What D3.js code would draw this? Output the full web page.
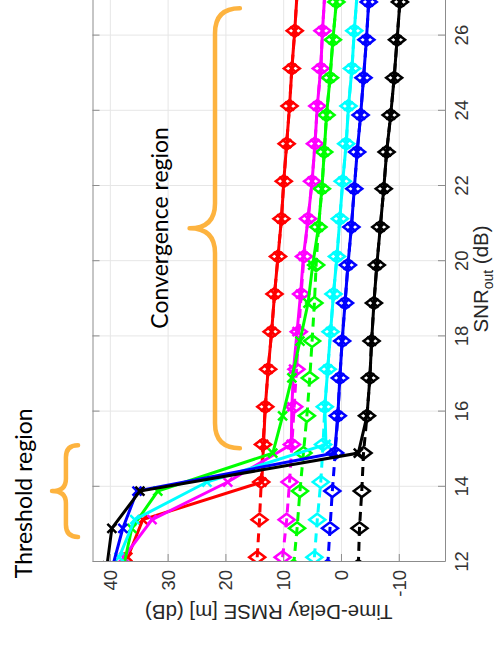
<!DOCTYPE html>
<html>
<head>
<meta charset="utf-8">
<title>Time-Delay RMSE vs SNR</title>
<script src="https://d3js.org/d3.v7.min.js"></script>
<style>
  body { margin: 0; background: #fff; }
  svg { display: block; }
  .axis text { font-family: "Liberation Sans", Arial, sans-serif; font-size: 18.5px; fill: #333; }
  .axis path, .axis line { stroke: #8c8c8c; stroke-width: 1; }
  .grid line { stroke: #e6e6e6; stroke-width: 1; }
  .label { font-family: "Liberation Sans", Arial, sans-serif; font-size: 20.5px; fill: #262626; }
  .note { font-family: Lato, "Open Sans", sans-serif; font-size: 23px; fill: #000; }
</style>
</head>
<body>
<div id="chart"></div>
<script>
// SNR_out points (dB); two slightly shifted grids
const snrA = [12.1, 13.1, 14.1, 15.1, 16.1, 17.1, 18.1, 19.1, 20.1, 21.1, 22.1, 23.1, 24.1, 25.1, 26.1, 27.1];
const snrB = [11.87, 12.87, 13.86, 14.87, 15.86, 16.87, 17.85, 18.86, 19.87, 20.88, 21.9, 22.88, 23.86, 24.85, 25.86, 26.87];

// dashed curves (diamonds) and solid curves (x markers), RMSE in dB
const redBound = [14.5, 14.1, 13.8, 13.5, 13.1, 12.6, 12.0, 11.5, 10.9, 10.3, 9.9, 9.4, 8.9, 8.5, 8.0, 7.6];
const redRmse = [36.9, 34.3, 13.7, 13.4, 13.1, 12.6, 12.0, 11.5, 10.9, 10.3, 9.9, 9.4, 8.9, 8.5, 8.0, 7.6];
const magentaBound = [10.1, 9.4, 8.9, 8.5, 8.1, 7.7, 7.3, 6.9, 6.4, 5.7, 5.0, 4.5, 4.1, 3.5, 3.2, 2.8];
const magentaRmse = [37.6, 32.7, 19.6, 8.6, 8.5, 8.2, 7.6, 7.0, 6.5, 5.7, 5.0, 4.5, 4.1, 3.5, 3.2, 2.8];
const greenBound = [8.2, 7.6, 7.1, 6.5, 5.9, 5.4, 5.0, 4.6, 4.3, 3.9, 3.3, 2.9, 2.5, 1.9, 1.4, 0.8];
const greenRmse = [37.6, 36.2, 31.7, 11.8, 10.1, 8.5, 7.1, 5.7, 4.9, 3.9, 3.3, 2.9, 2.5, 1.9, 1.4, 0.8];
const cyanBound = [4.6, 4.1, 3.5, 3.1, 2.8, 2.3, 1.8, 1.3, 0.7, 0.2, -0.3, -0.9, -1.3, -1.9, -2.3, -2.8];
const cyanRmse = [38.4, 35.7, 23.2, 2.6, 2.8, 2.3, 1.8, 1.3, 0.7, 0.2, -0.3, -0.9, -1.3, -1.9, -2.3, -2.8];
const blueBound = [2.3, 1.9, 1.5, 1.0, 0.55, 0.2, -0.2, -0.7, -1.2, -1.8, -2.3, -2.8, -3.4, -3.9, -4.4, -4.8];
const blueRmse = [39.5, 37.75, 35.3, 1.1, 0.55, 0.2, -0.2, -0.7, -1.2, -1.8, -2.3, -2.8, -3.4, -3.9, -4.4, -4.8];
const blackBound = [-3.0, -3.2, -3.6, -3.9, -4.5, -5.0, -5.3, -5.7, -6.2, -6.8, -7.4, -7.9, -8.6, -9.2, -9.7, -10.2];
const blackRmse = [40.5, 39.65, 34.8, -3.0, -4.5, -5.0, -5.3, -5.7, -6.2, -6.8, -7.4, -7.9, -8.6, -9.2, -9.7, -10.2];

const snrTicks = [12, 14, 16, 18, 20, 22, 24, 26];
const rmseTicks = [-10, 0, 10, 20, 30, 40];

// annotations, in data units (snr range, rmse of tip / spine / ends)
const braces = [
  { from: 12.64, to: 15.08, tip: 50.0, spine: 47.6, end: 45.5 },
  { from: 15.0, to: 26.7, tip: 26.2, spine: 21.8, end: 17.5 }
];
const notes = [
  { text: "Threshold region", snr: 13.8, rmse: 53.5 },
  { text: "Convergence region", snr: 20.86, rmse: 30.0 }
];

const series = [
  { color: "#ff0000", snr: snrA, bound: redBound, rmse: redRmse },
  { color: "#ff00ff", snr: snrA, bound: magentaBound, rmse: magentaRmse },
  { color: "#00ff00", snr: snrB, bound: greenBound, rmse: greenRmse },
  { color: "#00ffff", snr: snrA, bound: cyanBound, rmse: cyanRmse },
  { color: "#0000ff", snr: snrB, bound: blueBound, rmse: blueRmse },
  { color: "#000000", snr: snrB, bound: blackBound, rmse: blackRmse }
];

const width = 498, height = 648;

const svg = d3.select("#chart").append("svg")
  .attr("width", width)
  .attr("height", height);

// figure is shown turned by 90 degrees: SNR runs upward, RMSE runs to the left
const x = d3.scaleLinear().domain([43, -18]).range([92.5, 445]);
const y = d3.scaleLinear().domain([12, 27]).range([561, -3]);

const plotW = x(-18) - x(43), plotH = y(12) - y(27);

svg.append("defs").append("clipPath").attr("id", "plot")
  .append("rect")
  .attr("x", x(43)).attr("y", y(27))
  .attr("width", plotW).attr("height", plotH);

// grid
svg.append("g").attr("class", "grid")
  .attr("transform", `translate(0,${y(12)})`)
  .call(d3.axisBottom(x).tickValues(rmseTicks).tickSize(-plotH).tickFormat(""))
  .call(g => g.select(".domain").remove());
svg.append("g").attr("class", "grid")
  .attr("transform", `translate(${x(43)},0)`)
  .call(d3.axisLeft(y).tickValues(snrTicks).tickSize(-plotW).tickFormat(""))
  .call(g => g.select(".domain").remove());

// curves
const plotArea = svg.append("g").attr("clip-path", "url(#plot)");
const line = d3.line().x(d => x(d[1])).y(d => y(d[0]));

function diamond(w, h) {
  return `M0,${-h}L${w},0L0,${h}L${-w},0Z`;
}
const cross = "M-4.5,-4.5L4.5,4.5M-4.5,4.5L4.5,-4.5";

series.forEach(s => {
  const pts = s.snr.map((v, i) => [v, s.bound[i]]);
  plotArea.append("path")
    .attr("d", line(pts))
    .attr("fill", "none")
    .attr("stroke", s.color)
    .attr("stroke-width", 3)
    .attr("stroke-dasharray", "9,6");
  plotArea.selectAll(null).data(pts).enter().append("path")
    .attr("d", diamond(8, 6))
    .attr("transform", d => `translate(${x(d[1])},${y(d[0])})`)
    .attr("fill", "none")
    .attr("stroke", s.color)
    .attr("stroke-width", 2.5);
});

series.forEach(s => {
  const pts = s.snr.map((v, i) => [v, s.rmse[i]]);
  plotArea.append("path")
    .attr("d", line(pts))
    .attr("fill", "none")
    .attr("stroke", s.color)
    .attr("stroke-width", 3);
  plotArea.selectAll(null).data(pts).enter().append("path")
    .attr("d", cross)
    .attr("transform", d => `translate(${x(d[1])},${y(d[0])})`)
    .attr("fill", "none")
    .attr("stroke", s.color)
    .attr("stroke-width", 2.5);
});

// axes
const fmt = d => String(d);

const bottomAxis = svg.append("g").attr("class", "axis")
  .attr("transform", `translate(0,${y(12)})`)
  .call(d3.axisBottom(x).tickValues(rmseTicks).tickSizeInner(-7).tickSizeOuter(0).tickFormat(fmt));
bottomAxis.selectAll("text")
  .attr("x", 0).attr("y", 0).attr("dy", "0.35em")
  .attr("text-anchor", "end")
  .attr("transform", "translate(0,9) rotate(-90)");

const rightAxis = svg.append("g").attr("class", "axis")
  .attr("transform", `translate(${x(-18)},0)`)
  .call(d3.axisRight(y).tickValues(snrTicks).tickSizeInner(-7).tickSizeOuter(0).tickFormat(fmt));
rightAxis.selectAll("text")
  .attr("x", 0).attr("y", 0).attr("dy", 0)
  .attr("text-anchor", "middle")
  .attr("transform", "translate(23,0) rotate(-90)");

svg.append("g").attr("class", "axis")
  .attr("transform", `translate(${x(43)},0)`)
  .call(d3.axisLeft(y).tickValues(snrTicks).tickSizeInner(-7).tickSizeOuter(0).tickFormat(""));

// axis titles
const snrLabel = svg.append("text").attr("class", "label")
  .attr("text-anchor", "middle")
  .attr("transform", `translate(488,${(y(12) + y(27)) / 2}) rotate(-90)`);
snrLabel.append("tspan").text("SNR");
snrLabel.append("tspan").attr("font-size", "14px").attr("dy", "0.35em").text("out");
snrLabel.append("tspan").attr("dy", "-0.25em").text(" (dB)");

svg.append("text").attr("class", "label")
  .attr("text-anchor", "middle")
  .attr("transform", `translate(${(x(43) + x(-18)) / 2},605) rotate(180)`)
  .text("Time-Delay RMSE [m] (dB)");

// braces and region notes
function bracePath(b) {
  const xe = x(b.end), xs = x(b.spine), xt = x(b.tip);
  const y0 = y(b.to), y1 = y(b.from), ym = (y0 + y1) / 2;
  const r = Math.abs(xe - xs);
  return `M${xe},${y0}Q${xs},${y0} ${xs},${y0 + r}L${xs},${ym - r}Q${xs},${ym} ${xt},${ym}` +
    `Q${xs},${ym} ${xs},${ym + r}L${xs},${y1 - r}Q${xs},${y1} ${xe},${y1}`;
}

svg.selectAll(".brace").data(braces).enter().append("path")
  .attr("class", "brace")
  .attr("d", bracePath)
  .attr("fill", "none")
  .attr("stroke", "#fdb33f")
  .attr("stroke-width", 4.5)
  .attr("stroke-linecap", "round")
  .attr("stroke-linejoin", "round");

svg.selectAll(".note").data(notes).enter().append("text")
  .attr("class", "note")
  .attr("text-anchor", "middle")
  .attr("transform", d => `translate(${x(d.rmse)},${y(d.snr)}) rotate(-90)`)
  .text(d => d.text);
</script>
</body>
</html>
